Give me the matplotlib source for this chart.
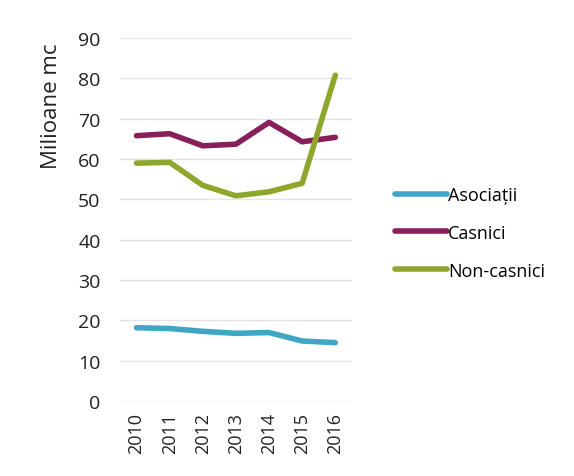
import numpy as np
import matplotlib.pyplot as plt

plt.rcParams['font.family'] = ['Open Sans', 'DejaVu Sans']

# --------------------------
# data
# --------------------------
years = ['2010', '2011', '2012', '2013', '2014', '2015', '2016']
asociatii = [18.2, 18.0, 17.3, 16.8, 17.0, 14.9, 14.5]
casnici = [65.8, 66.3, 63.3, 63.7, 69.1, 64.3, 65.4]
non_casnici = [59.0, 59.2, 53.5, 50.9, 51.9, 54.0, 80.8]

COLOR_AS = '#3fa6c6'
COLOR_CA = '#861f5a'
COLOR_NC = '#8fa62c'

fig = plt.figure(figsize=(5.74, 4.77), dpi=100)
ax = fig.add_axes([0.209, 0.157, 0.404, 0.761])

x = np.arange(len(years))
l1, = ax.plot(x, asociatii, color=COLOR_AS, linewidth=4, solid_capstyle='round', label='Asociații')
l2, = ax.plot(x, casnici, color=COLOR_CA, linewidth=4, solid_capstyle='round', label='Casnici')
l3, = ax.plot(x, non_casnici, color=COLOR_NC, linewidth=4, solid_capstyle='round', label='Non-casnici')

ax.set_xlim(-0.5, len(years) - 0.5)
ax.set_ylim(0, 90)
ax.set_yticks(np.arange(0, 91, 10))
ax.set_xticks(x)
ax.set_xticklabels(years, rotation=90, fontsize=13, color='#222222')
ax.tick_params(axis='y', labelsize=14, colors='#222222', length=0, pad=14)
ax.tick_params(axis='x', length=0, pad=8)
ax.grid(axis='y', color='#e4e4e4', linewidth=1)
ax.set_axisbelow(True)
for s in ax.spines.values():
    s.set_visible(False)
ax.set_ylabel('Milioane mc', fontsize=16, color='#222222')
ax.yaxis.set_label_coords(-0.25, 0.815)

fig.legend(handles=[l1, l2, l3], loc='center left', bbox_to_anchor=(0.66, 0.51),
           frameon=False, fontsize=13, handlelength=2.9, handletextpad=0.05,
           labelspacing=1.1)

plt.savefig('out.png', dpi=100)
plt.close()
